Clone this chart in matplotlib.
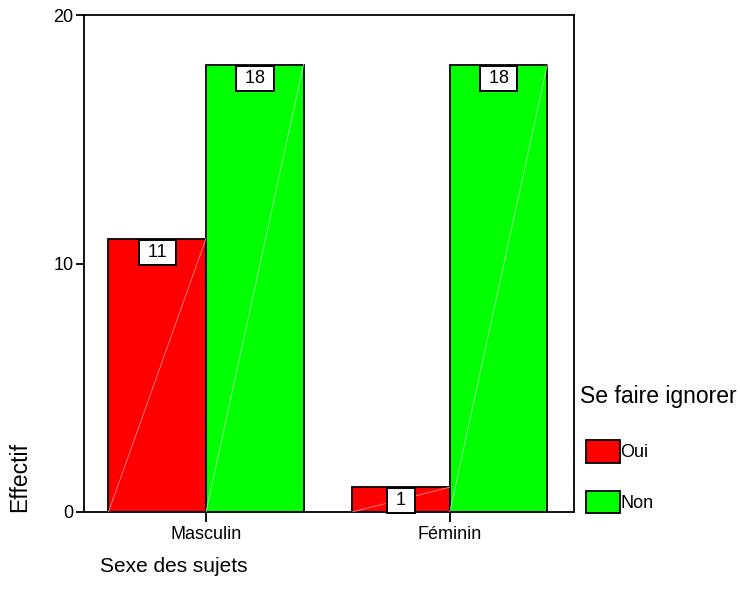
import numpy as np
import matplotlib.pyplot as plt
from matplotlib.patches import Patch

plt.rcParams['font.family'] = ['Liberation Sans', 'DejaVu Sans']

# data
groups = ['Masculin', 'Féminin']
series = ['Oui', 'Non']
oui = [11, 1]
non = [18, 18]
colors = ['#ff0000', '#00ff00']
diag = ['#ff9090', '#a0ffa0']

fig = plt.figure(figsize=(7.4, 6), dpi=100)
ax = fig.add_axes([84/740, 88/600, 490/740, 497/600])

x = np.array([0, 2.5])
w = 1.0
for vals, off, c, dc in [(oui, -0.5, colors[0], diag[0]), (non, 0.5, colors[1], diag[1])]:
    xs = x + off
    ax.bar(xs, vals, width=w, color=c, edgecolor='black', linewidth=1.3, zorder=2)
    for xi, v in zip(xs, vals):
        # faint diagonal seen on each bar
        ax.plot([xi - w/2, xi + w/2], [0, v], color=dc, lw=0.6, zorder=3)
        ax.text(xi, v - 0.2, ' %d ' % v, ha='center', va='top', fontsize=13, zorder=5,
                bbox=dict(boxstyle='square,pad=0.22', fc='white', ec='black', lw=1.4))

ax.set_xlim(-1.251, 3.774)
ax.set_ylim(0, 20)
ax.set_yticks([0, 10, 20])
ax.set_xticks(x)
ax.set_xticklabels(groups, fontsize=13)
ax.tick_params(axis='y', labelsize=13, length=6, width=1.3, direction='out', pad=1.5)
ax.tick_params(axis='x', length=7, width=1.3, direction='out', pad=3)
for s in ax.spines.values():
    s.set_linewidth(1.3)

fig.text(20/740, 1 - 512/600, 'Effectif', rotation=90, ha='center', va='bottom', fontsize=16.5)
fig.text(100/740, 1 - 567/600, 'Sexe des sujets', ha='left', va='center', fontsize=15)
fig.text(580/740, 1 - 397/600, 'Se faire ignorer', ha='left', va='center', fontsize=16.5)

handles = [Patch(facecolor=c, edgecolor='black', linewidth=1.3) for c in colors]
fig.legend(handles, series, loc='upper left', bbox_to_anchor=(586/740, 1 - 440/600),
           frameon=False, fontsize=13, handlelength=1.89, handleheight=1.55,
           handletextpad=0.0, labelspacing=1.55, borderaxespad=0, borderpad=0)

fig.savefig('out.png', dpi=100)
